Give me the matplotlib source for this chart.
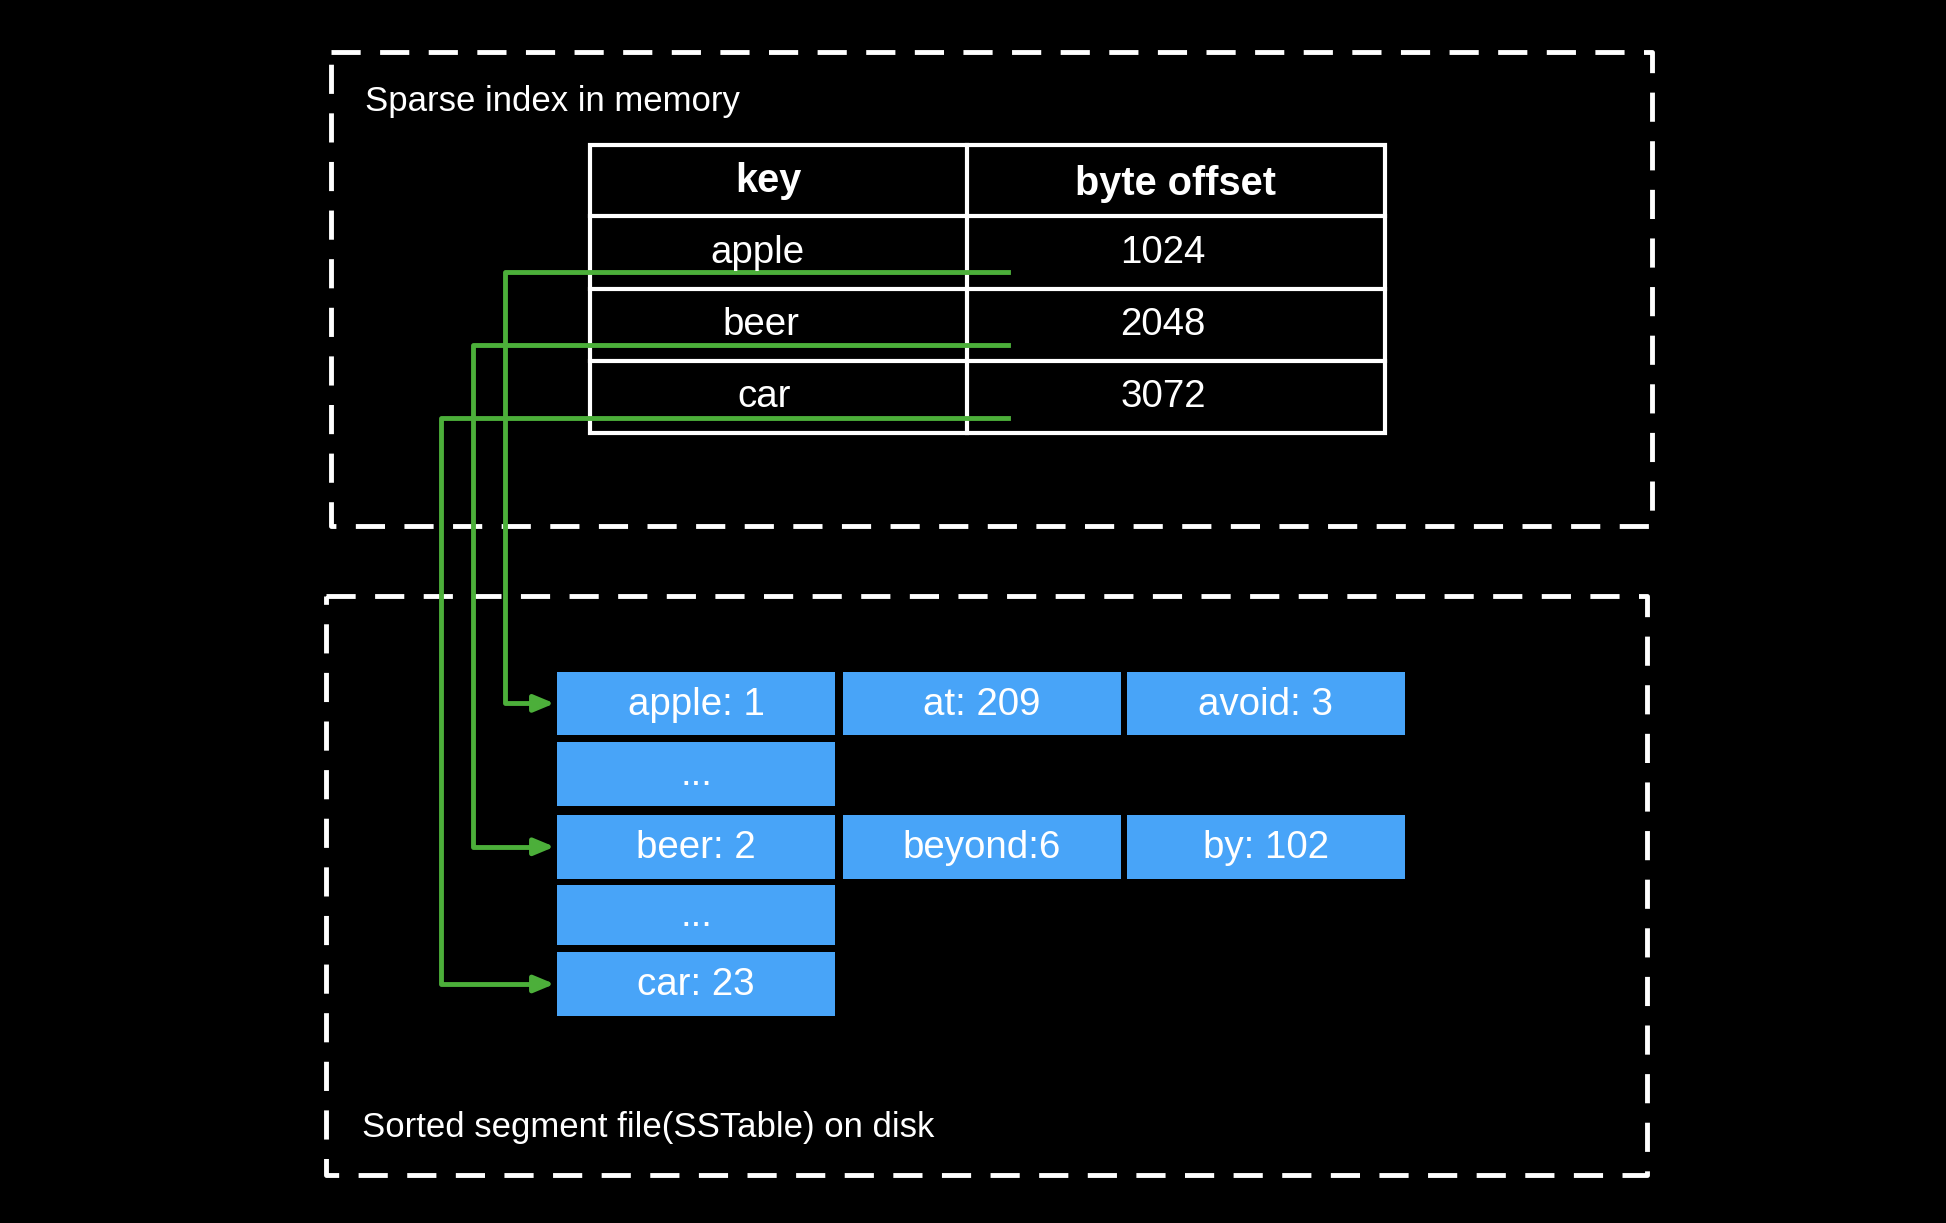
import matplotlib.pyplot as plt
from matplotlib.patches import Rectangle

# table of the sparse index
keys = ['apple', 'beer', 'car']
offsets = ['1024', '2048', '3072']
headers = ['key', 'byte offset']

# segment file rows (None = empty cell)
segment_rows = [
    ['apple: 1', 'at: 209', 'avoid: 3'],
    ['...', None, None],
    ['beer: 2', 'beyond:6', 'by: 102'],
    ['...', None, None],
    ['car: 23', None, None],
]
# row index in segment each key points to
key_targets = [0, 2, 4]

W, H = 1568, 985
S = 1946 / W
fig = plt.figure(figsize=(19.46, 12.23), dpi=100, facecolor='black')
ax = fig.add_axes([0, 0, 1, 1])
ax.set_xlim(0, W)
ax.set_ylim(H, 0)
ax.axis('off')
ax.set_facecolor('black')
plt.rcParams['font.family'] = ['Liberation Sans', 'DejaVu Sans']


def fs(px):
    return px * S * 72 / 100


def dashed_box(x0, y0, x1, y1):
    ax.plot([x0, x1, x1, x0, x0], [y0, y0, y1, y1, y0], color='white',
            lw=3.5, linestyle=(0, (6, 4)), solid_capstyle='butt')


dashed_box(267, 42, 1331, 424)
dashed_box(263, 480, 1327, 946)
ax.text(294, 82, 'Sparse index in memory', color='white', fontsize=fs(28),
        va='center', ha='left')
ax.text(292, 908, 'Sorted segment file(SSTable) on disk', color='white',
        fontsize=fs(28), va='center', ha='left')

# index table
tx0, tx1, tmid = 475, 1116, 779
row_y = [117, 174, 233, 291, 349]
ax.add_patch(Rectangle((tx0, row_y[0]), tx1 - tx0, row_y[-1] - row_y[0],
                       fill=False, ec='white', lw=3))
ax.plot([tmid, tmid], [row_y[0], row_y[-1]], color='white', lw=3)
for y in row_y[1:-1]:
    ax.plot([tx0, tx1], [y, y], color='white', lw=3)
ax.text(619, 146, headers[0], color='white', fontsize=fs(32), weight='bold',
        ha='center', va='center')
ax.text(947, 148, headers[1], color='white', fontsize=fs(32), weight='bold',
        ha='center', va='center')
for i, (k, o) in enumerate(zip(keys, offsets)):
    yc = (row_y[i + 1] + row_y[i + 2]) / 2
    ax.text(610 + 3 * i, yc, k, color='white', fontsize=fs(31),
            ha='center', va='center')
    ax.text(937, yc, o, color='white', fontsize=fs(31), ha='center', va='center')

# segment cells
col_x = [449, 679, 908]
cell_w = 224
seg_y = [(541, 592), (598, 649), (656, 708), (713, 761), (767, 818)]
blue = '#48a4f8'
for (y0, y1), row in zip(seg_y, segment_rows):
    for x0, label in zip(col_x, row):
        if label is None:
            continue
        ax.add_patch(Rectangle((x0, y0), cell_w, y1 - y0, color=blue, lw=0))
        ax.text(x0 + cell_w / 2, (y0 + y1) / 2 + 1, label, color='white',
                fontsize=fs(31), ha='center', va='center')

# green pointers
green = '#4caf3a'
line_y = [219, 278, 337]
line_x = [407, 381, 355]
for ly, lx, t in zip(line_y, line_x, key_targets):
    ty = (seg_y[t][0] + seg_y[t][1]) / 2
    ax.plot([812, lx, lx, 432], [ly, ly, ty, ty], color=green, lw=3.5)
    ax.annotate('', xy=(449, ty), xytext=(428, ty),
                arrowprops=dict(arrowstyle='-|>,head_length=1.2,head_width=0.5',
                                color=green, lw=3.5))

fig.savefig('out.png', dpi=100, facecolor='black')
